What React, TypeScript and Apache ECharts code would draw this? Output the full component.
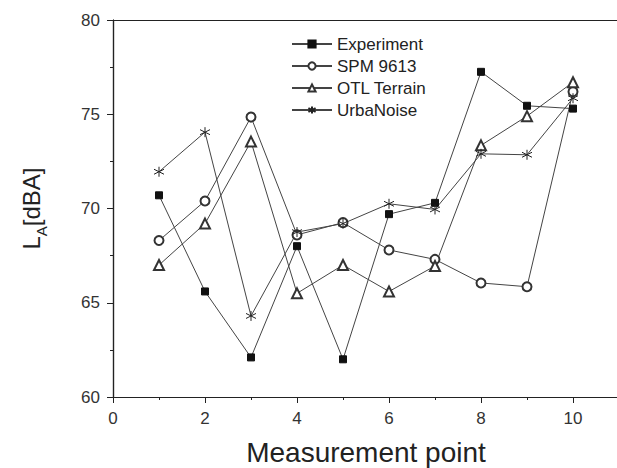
import React, { useEffect, useRef } from "react";
import * as echarts from "echarts";

const xPoints = [1, 2, 3, 4, 5, 6, 7, 8, 9, 10];
const experiment = [70.7, 65.6, 62.1, 68.0, 62.0, 69.7, 70.3, 77.25, 75.45, 75.3];
const spm9613 = [68.3, 70.4, 74.85, 68.6, 69.25, 67.8, 67.3, 66.05, 65.85, 76.2];
const otlTerrain = [67.0, 69.2, 73.55, 65.5, 67.0, 65.6, 66.95, 73.35, 74.9, 76.7];
const urbaNoise = [71.95, 74.05, 64.3, 68.75, 69.2, 70.25, 69.95, 72.9, 72.85, 75.85];
const seriesNames = ["Experiment", "SPM 9613", "OTL Terrain", "UrbaNoise"];

const asterisk =
  "path://M0,-5L0,5M-4.33,-2.5L4.33,2.5M-4.33,2.5L4.33,-2.5";

const FONT = "'Liberation Sans', Arial, sans-serif";

export default function App() {
  const ref = useRef<HTMLDivElement>(null);
  useEffect(() => {
    if (!ref.current) return;
    const chart = echarts.init(ref.current, undefined, { renderer: "svg" });
    const pair = (ys: number[]) => xPoints.map((x, i) => [x, ys[i]]);
    const lineStyle = { color: "#444", width: 1 };
    const mk = (name: string, ys: number[], symbol: string, size: number, color: string) => ({
      name,
      type: "line",
      data: pair(ys),
      symbol,
      symbolSize: size,
      lineStyle,
      itemStyle: { color, borderColor: color, borderWidth: 1 },
      emphasis: { disabled: true },
    });
    chart.setOption({
      animation: false,
      backgroundColor: "#fff",
      textStyle: { fontFamily: FONT },
      grid: {
        left: 113,
        top: 20,
        width: 506,
        height: 377,
        containLabel: false,
        outerBoundsMode: "none",
      },
      legend: {
        orient: "vertical",
        left: 286,
        top: 28,
        itemWidth: 40,
        itemHeight: 9,
        itemGap: 0,
        data: seriesNames,
        textStyle: { fontSize: 17, color: "#222", fontFamily: FONT, lineHeight: 22 },
      },
      xAxis: [
        {
          type: "value",
          min: 0,
          max: 11,
          interval: 2,
          name: "Measurement point",
          nameLocation: "middle",
          nameGap: 41,
          nameTextStyle: { fontSize: 28, color: "#222", fontFamily: FONT },
          axisLine: { lineStyle: { color: "#222", width: 1.2 } },
          axisTick: { length: 6, lineStyle: { color: "#222" } },
          minorTick: { show: true, splitNumber: 2, length: 3, lineStyle: { color: "#222" } },
          axisLabel: {
            fontSize: 17,
            color: "#333",
            margin: 13,
            formatter: (v: number) => (v > 10 ? "" : String(v)),
          },
          splitLine: { show: false },
        },
        {
          type: "value",
          position: "top",
          min: 0,
          max: 11,
          axisLine: { show: true, lineStyle: { color: "#222", width: 1.2 } },
          axisTick: { show: false },
          axisLabel: { show: false },
          splitLine: { show: false },
        },
      ],
      yAxis: [
        {
          type: "value",
          min: 60,
          max: 80,
          interval: 5,
          name: "{a|L}{b|A}{a|[dBA]}",
          nameLocation: "middle",
          nameGap: 70,
          nameTextStyle: {
            color: "#222",
            fontFamily: FONT,
            rich: {
              a: { fontSize: 24, color: "#222", fontFamily: FONT, lineHeight: 30, verticalAlign: "bottom" },
              b: { fontSize: 15, color: "#222", fontFamily: FONT, lineHeight: 30, verticalAlign: "bottom", padding: [0, 0, -6, 0] },
            },
          },
          axisLine: { show: true, lineStyle: { color: "#222", width: 1.2 } },
          axisTick: { show: true, length: 6, lineStyle: { color: "#222" } },
          minorTick: { show: true, splitNumber: 2, length: 3, lineStyle: { color: "#222" } },
          axisLabel: { fontSize: 17, color: "#333", margin: 13 },
          splitLine: { show: false },
        },
        {
          type: "value",
          position: "right",
          min: 60,
          max: 80,
          axisLine: { show: true, lineStyle: { color: "#222", width: 1.2 } },
          axisTick: { show: false },
          axisLabel: { show: false },
          splitLine: { show: false },
        },
      ],
      series: [
        mk("Experiment", experiment, "rect", 7, "#111"),
        mk("SPM 9613", spm9613, "emptyCircle", 9, "#333"),
        mk("OTL Terrain", otlTerrain, "emptyTriangle", 10, "#333"),
        mk("UrbaNoise", urbaNoise, asterisk, 10, "#222"),
      ],
    });
    return () => chart.dispose();
  }, []);
  return (
    <div
      ref={ref}
      style={{ position: "fixed", left: 0, top: 0, width: 617, height: 468 }}
    />
  );
}
